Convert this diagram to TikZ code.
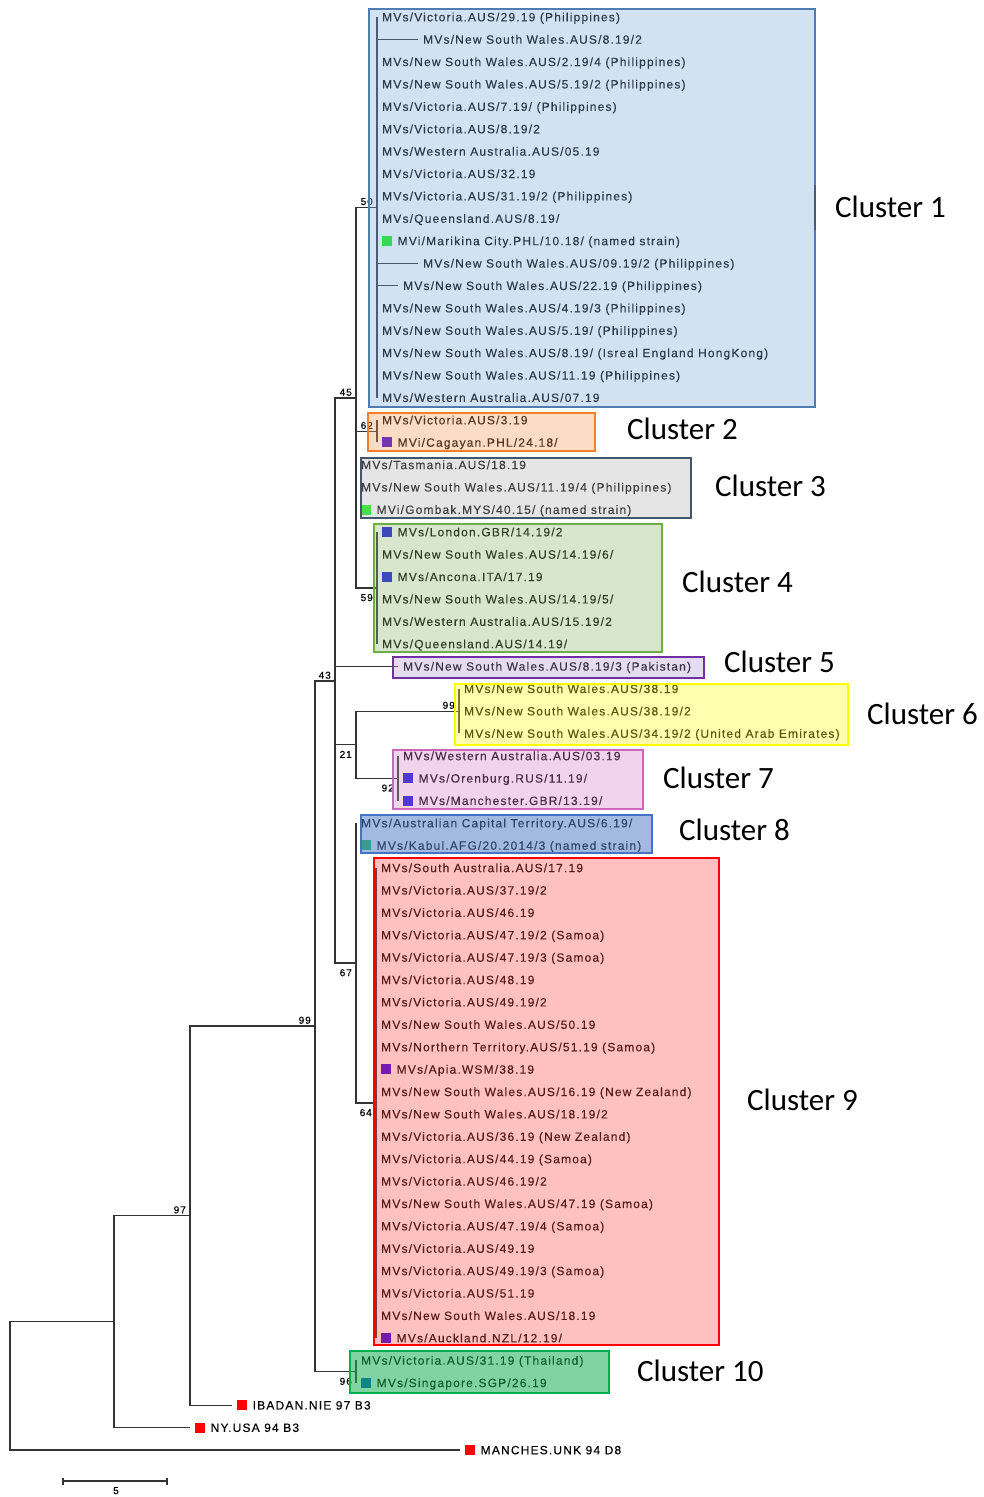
\documentclass[tikz,border=0pt]{standalone}
\usepackage{fontspec}
\setmainfont{Liberation Sans}
\newfontfamily\leaffont{Liberation Sans}[LetterSpace=9.8,FakeBold=0.3]
\newfontfamily\clabfont{Carlito}
\definecolor{txt}{HTML}{000000}
\definecolor{brc}{HTML}{333333}
\definecolor{mgreen}{HTML}{10F010}
\definecolor{mgreenb}{HTML}{10C050}
\definecolor{mblue}{HTML}{1010E0}
\definecolor{mviolet}{HTML}{3000E0}
\definecolor{mblueb}{HTML}{0050C8}
\definecolor{mred}{HTML}{FF0000}
\definecolor{c1b}{HTML}{4F7DB3}\definecolor{c1f}{RGB}{126,172,218}
\definecolor{c2b}{HTML}{F07F2F}\definecolor{c2f}{RGB}{247,158,86}
\definecolor{c3b}{HTML}{44546A}\definecolor{c3f}{RGB}{183,183,183}
\definecolor{c4b}{HTML}{70AD47}\definecolor{c4f}{RGB}{144,184,115}
\definecolor{c5b}{HTML}{7030A0}\definecolor{c5f}{RGB}{180,160,212}
\definecolor{c6b}{HTML}{FFFF00}\definecolor{c6f}{RGB}{255,255,29}
\definecolor{c7b}{HTML}{CC66BB}\definecolor{c7f}{RGB}{212,132,201}
\definecolor{c8b}{HTML}{4472C4}\definecolor{c8f}{RGB}{88,128,199}
\definecolor{c9b}{HTML}{FF0000}\definecolor{c9f}{RGB}{255,75,75}
\definecolor{c10b}{HTML}{00B050}\definecolor{c10f}{RGB}{22,177,82}
\newcommand{\mk}[1]{{\color{#1}\rule[-0.7pt]{10pt}{10pt}}\hspace{5.5pt}}
\newcommand{\leafrow}[3]{\coordinate (t#1) at (#2,{17+22.39*#1});
  \node[leaf] (l#1) at ([xshift=5pt]t#1) {#3};}
\tikzset{
  leaf/.style={anchor=west, inner sep=0pt, text height=8.6pt, text depth=0pt,
    font=\leaffont\fontsize{12}{14}\selectfont, text=txt},
  bs/.style={inner sep=0pt, font=\leaffont\fontsize{10}{12}\selectfont, text=txt},
  br/.style={draw=brc, line width=1.2pt},
  clab/.style={anchor=west, inner sep=0pt, font=\clabfont\fontsize{31}{35}\selectfont, text=black},
  cbox/.style args={#1/#2/#3}{draw=#1, line width=2.5pt, fill=#2, fill opacity=#3, draw opacity=1},
}
\begin{document}
\begin{tikzpicture}[x=1pt,y=-1pt]
\useasboundingbox (0,0) rectangle (984,1497);
\fill[white] (0,0) rectangle (984,1497);
% internal nodes
\coordinate (root) at (10,1385.8);
\coordinate (nA) at (114,1321.6);
\coordinate (n97) at (190,1215.6);
\coordinate (n99) at (315,1026);
\coordinate (n43) at (335,681);
\coordinate (n45) at (356,398);
\coordinate (n50) at (377,207.3);
\coordinate (n62) at (377,431.2);
\coordinate (n59) at (377,587.9);
\coordinate (n21) at (356,744.7);
\coordinate (n99b) at (459,711.1);
\coordinate (n92) at (398,778.3);
\coordinate (n67) at (356,963);
\coordinate (n64) at (376,1102.9);
\coordinate (n96) at (356,1371.6);
% leaves
\leafrow{0}{377}{MVs/Victoria.AUS/29.19 (Philippines)}
\leafrow{1}{418}{MVs/New South Wales.AUS/8.19/2}
\leafrow{2}{377}{MVs/New South Wales.AUS/2.19/4 (Philippines)}
\leafrow{3}{377}{MVs/New South Wales.AUS/5.19/2 (Philippines)}
\leafrow{4}{377}{MVs/Victoria.AUS/7.19/ (Philippines)}
\leafrow{5}{377}{MVs/Victoria.AUS/8.19/2}
\leafrow{6}{377}{MVs/Western Australia.AUS/05.19}
\leafrow{7}{377}{MVs/Victoria.AUS/32.19}
\leafrow{8}{377}{MVs/Victoria.AUS/31.19/2 (Philippines)}
\leafrow{9}{377}{MVs/Queensland.AUS/8.19/}
\leafrow{10}{377}{\mk{mgreen}MVi/Marikina City.PHL/10.18/ (named strain)}
\leafrow{11}{418}{MVs/New South Wales.AUS/09.19/2 (Philippines)}
\leafrow{12}{398}{MVs/New South Wales.AUS/22.19 (Philippines)}
\leafrow{13}{377}{MVs/New South Wales.AUS/4.19/3 (Philippines)}
\leafrow{14}{377}{MVs/New South Wales.AUS/5.19/ (Philippines)}
\leafrow{15}{377}{MVs/New South Wales.AUS/8.19/ (Isreal England HongKong)}
\leafrow{16}{377}{MVs/New South Wales.AUS/11.19 (Philippines)}
\leafrow{17}{377}{MVs/Western Australia.AUS/07.19}
\leafrow{18}{377}{MVs/Victoria.AUS/3.19}
\leafrow{19}{377}{\mk{mviolet}MVi/Cagayan.PHL/24.18/}
\leafrow{20}{356}{MVs/Tasmania.AUS/18.19}
\leafrow{21}{356}{MVs/New South Wales.AUS/11.19/4 (Philippines)}
\leafrow{22}{356}{\mk{mgreen}MVi/Gombak.MYS/40.15/ (named strain)}
\leafrow{23}{377}{\mk{mblue}MVs/London.GBR/14.19/2}
\leafrow{24}{377}{MVs/New South Wales.AUS/14.19/6/}
\leafrow{25}{377}{\mk{mblue}MVs/Ancona.ITA/17.19}
\leafrow{26}{377}{MVs/New South Wales.AUS/14.19/5/}
\leafrow{27}{377}{MVs/Western Australia.AUS/15.19/2}
\leafrow{28}{377}{MVs/Queensland.AUS/14.19/}
\leafrow{29}{398}{MVs/New South Wales.AUS/8.19/3 (Pakistan)}
\leafrow{30}{459}{MVs/New South Wales.AUS/38.19}
\leafrow{31}{459}{MVs/New South Wales.AUS/38.19/2}
\leafrow{32}{459}{MVs/New South Wales.AUS/34.19/2 (United Arab Emirates)}
\leafrow{33}{398}{MVs/Western Australia.AUS/03.19}
\leafrow{34}{398}{\mk{mblue}MVs/Orenburg.RUS/11.19/}
\leafrow{35}{398}{\mk{mblue}MVs/Manchester.GBR/13.19/}
\leafrow{36}{356}{MVs/Australian Capital Territory.AUS/6.19/}
\leafrow{37}{356}{\mk{mgreenb}MVs/Kabul.AFG/20.2014/3 (named strain)}
\leafrow{38}{376}{MVs/South Australia.AUS/17.19}
\leafrow{39}{376}{MVs/Victoria.AUS/37.19/2}
\leafrow{40}{376}{MVs/Victoria.AUS/46.19}
\leafrow{41}{376}{MVs/Victoria.AUS/47.19/2 (Samoa)}
\leafrow{42}{376}{MVs/Victoria.AUS/47.19/3 (Samoa)}
\leafrow{43}{376}{MVs/Victoria.AUS/48.19}
\leafrow{44}{376}{MVs/Victoria.AUS/49.19/2}
\leafrow{45}{376}{MVs/New South Wales.AUS/50.19}
\leafrow{46}{376}{MVs/Northern Territory.AUS/51.19 (Samoa)}
\leafrow{47}{376}{\mk{mviolet}MVs/Apia.WSM/38.19}
\leafrow{48}{376}{MVs/New South Wales.AUS/16.19 (New Zealand)}
\leafrow{49}{376}{MVs/New South Wales.AUS/18.19/2}
\leafrow{50}{376}{MVs/Victoria.AUS/36.19 (New Zealand)}
\leafrow{51}{376}{MVs/Victoria.AUS/44.19 (Samoa)}
\leafrow{52}{376}{MVs/Victoria.AUS/46.19/2}
\leafrow{53}{376}{MVs/New South Wales.AUS/47.19 (Samoa)}
\leafrow{54}{376}{MVs/Victoria.AUS/47.19/4 (Samoa)}
\leafrow{55}{376}{MVs/Victoria.AUS/49.19}
\leafrow{56}{376}{MVs/Victoria.AUS/49.19/3 (Samoa)}
\leafrow{57}{376}{MVs/Victoria.AUS/51.19}
\leafrow{58}{376}{MVs/New South Wales.AUS/18.19}
\leafrow{59}{376}{\mk{mviolet}MVs/Auckland.NZL/12.19/}
\leafrow{60}{356}{MVs/Victoria.AUS/31.19 (Thailand)}
\leafrow{61}{356}{\mk{mblueb}MVs/Singapore.SGP/26.19}
\leafrow{62}{232}{\mk{mred}IBADAN.NIE 97 B3}
\leafrow{63}{190}{\mk{mred}NY.USA 94 B3}
\leafrow{64}{460}{\mk{mred}MANCHES.UNK 94 D8}
% branches
\draw[br] (root) |- (nA); \draw[br] (root) |- (t64);
\draw[br] (nA) |- (n97); \draw[br] (nA) |- (t63);
\draw[br] (n97) |- (n99); \draw[br] (n97) |- (t62);
\draw[br] (n99) |- (n43); \draw[br] (n99) |- (n96);
\draw[br] (n96) |- (t60); \draw[br] (n96) |- (t61);
\draw[br] (n43) |- (n45); \draw[br] (n43) |- (t29);
\draw[br] (n43) |- (n21); \draw[br] (n43) |- (n67);
\draw[br] (n45) |- (n50); \draw[br] (n45) |- (n62); \draw[br] (n45) |- (n59);
\foreach \i in {20,21,22} \draw[br] (n45) |- (t\i);
\foreach \i in {0,...,17} \draw[br] (n50) |- (t\i);
\foreach \i in {18,19} \draw[br] (n62) |- (t\i);
\foreach \i in {23,...,28} \draw[br] (n59) |- (t\i);
\draw[br] (n21) |- (n99b); \draw[br] (n21) |- (n92);
\foreach \i in {30,31,32} \draw[br] (n99b) |- (t\i);
\foreach \i in {33,34,35} \draw[br] (n92) |- (t\i);
\draw[br] (n67) |- (t36); \draw[br] (n67) |- (t37); \draw[br] (n67) |- (n64);
\foreach \i in {38,...,59} \draw[br] (n64) |- (t\i);
% bootstrap values
\node[bs, anchor=south east] (b50) at ([xshift=-4pt,yshift=2pt]n50) {50};
\node[bs, anchor=south east] (b45) at ([xshift=-4pt,yshift=2pt]n45) {45};
\node[bs, anchor=south east] (b43) at ([xshift=-4pt,yshift=2pt]n43) {43};
\node[bs, anchor=south east] (b99) at ([xshift=-4pt,yshift=2pt]n99) {99};
\node[bs, anchor=south east] (b97) at ([xshift=-4pt,yshift=2pt]n97) {97};
\node[bs, anchor=south east] (b62) at ([xshift=-4pt,yshift=2pt]n62) {62};
\node[bs, anchor=south east] (b99b) at ([xshift=-4pt,yshift=2pt]n99b) {99};
\node[bs, anchor=north east] (b59) at ([xshift=-4pt,yshift=-6pt]n59) {59};
\node[bs, anchor=north east] (b21) at ([xshift=-4pt,yshift=-6pt]n21) {21};
\node[bs, anchor=north east] (b67) at ([xshift=-4pt,yshift=-6pt]n67) {67};
\node[bs, anchor=north east] (b64) at ([xshift=-4pt,yshift=-6pt]n64) {64};
\node[bs, anchor=north east] (b92) at ([xshift=-4pt,yshift=-6pt]n92) {92};
\node[bs, anchor=north east] (b96) at ([xshift=-4pt,yshift=-6pt]n96) {96};
% cluster boxes
\path[cbox=c1b/c1f/0.35] (369,9) rectangle (815,407);
\draw[line width=2.6pt, draw=c3b!80!c1b] (815,185) -- (815,230);
\path[cbox=c2b/c2f/0.35] (368,413) rectangle (595,451);
\path[cbox=c3b/c3f/0.35] (361,458) rectangle (691,518);
\path[cbox=c4b/c4f/0.35] (374,524) rectangle (662,652);
\path[cbox=c5b/c5f/0.35] (393,657) rectangle (704,678);
\path[cbox=c6b/c6f/0.35] (455,684) rectangle (848,745);
\path[cbox=c7b/c7f/0.35] (393,750) rectangle (643,809);
\path[cbox=c8b/c8f/0.55] (361,815) rectangle (652,853);
\path[cbox=c9b/c9f/0.35] (374,858) rectangle (719,1345);
\path[cbox=c10b/c10f/0.55] (350,1351) rectangle (609,1393);
% cluster labels
\node[clab] (k1) at (835,207) {Cluster 1};
\node[clab] (k2) at (627,429) {Cluster 2};
\node[clab] (k3) at (715,486) {Cluster 3};
\node[clab] (k4) at (682,582) {Cluster 4};
\node[clab] (k5) at (724,662) {Cluster 5};
\node[clab] (k6) at (867,714) {Cluster 6};
\node[clab] (k7) at (663,778) {Cluster 7};
\node[clab] (k8) at (679,830) {Cluster 8};
\node[clab] (k9) at (747,1100) {Cluster 9};
\node[clab] (k10) at (637,1371) {Cluster 10};
% scale bar
\coordinate (s1) at (63,1481);
\coordinate (s2) at (167,1481);
\draw[br] (s1) -- (s2);
\draw[br] ([yshift=3.5pt]s1) -- ([yshift=-3.5pt]s1);
\draw[br] ([yshift=3.5pt]s2) -- ([yshift=-3.5pt]s2);
\node[bs, anchor=north] (sl) at (116,1487) {5};
\end{tikzpicture}
\end{document}
